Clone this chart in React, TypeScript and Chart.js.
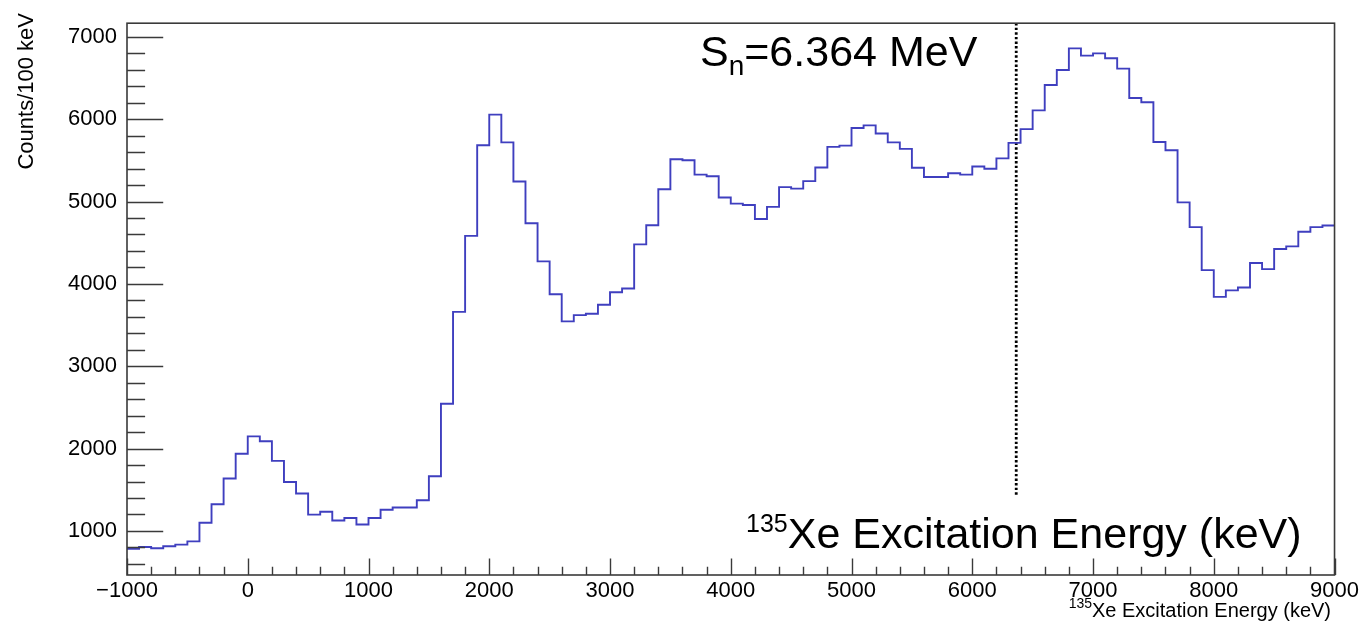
import React, { useEffect, useRef } from 'react';
import { Chart, registerables } from 'chart.js';

Chart.register(...registerables);

// Bin lower edges (keV), 100 keV bins
const binLow = [
  -1000, -900, -800, -700, -600, -500, -400, -300, -200, -100,
  0, 100, 200, 300, 400, 500, 600, 700, 800, 900,
  1000, 1100, 1200, 1300, 1400, 1500, 1600, 1700, 1800, 1900,
  2000, 2100, 2200, 2300, 2400, 2500, 2600, 2700, 2800, 2900,
  3000, 3100, 3200, 3300, 3400, 3500, 3600, 3700, 3800, 3900,
  4000, 4100, 4200, 4300, 4400, 4500, 4600, 4700, 4800, 4900,
  5000, 5100, 5200, 5300, 5400, 5500, 5600, 5700, 5800, 5900,
  6000, 6100, 6200, 6300, 6400, 6500, 6600, 6700, 6800, 6900,
  7000, 7100, 7200, 7300, 7400, 7500, 7600, 7700, 7800, 7900,
  8000, 8100, 8200, 8300, 8400, 8500, 8600, 8700, 8800, 8900,
];
const lastEdge = 9000;

// Counts per 100 keV bin
const counts = [
  783, 805, 790, 814, 834, 873, 1099, 1325, 1637, 1938,
  2148, 2089, 1851, 1594, 1455, 1198, 1234, 1127, 1158, 1079,
  1158, 1257, 1285, 1285, 1372, 1665, 2544, 3660, 4583, 5683,
  6056, 5719, 5244, 4737, 4274, 3874, 3545, 3621, 3637, 3747,
  3898, 3945, 4480, 4713, 5149, 5513, 5501, 5327, 5307, 5050,
  4975, 4958, 4789, 4935, 5175, 5157, 5248, 5414, 5664, 5679,
  5893, 5925, 5826, 5719, 5640, 5410, 5299, 5299, 5343, 5327,
  5426, 5398, 5525, 5713, 5880, 6107, 6416, 6598, 6860, 6772,
  6800, 6741, 6614, 6258, 6206, 5723, 5624, 4990, 4690, 4167,
  3842, 3922, 3957, 4254, 4179, 4424, 4456, 4634, 4690, 4709,
];

const xTickValues = [-1000, 0, 1000, 2000, 3000, 4000, 5000, 6000, 7000, 8000, 9000];
const yTickValues = [1000, 2000, 3000, 4000, 5000, 6000, 7000];

const xMin = -1000;
const xMax = 9000;
const yMin = 465;
const yMax = 7166;

// Neutron separation energy marker
const snKeV = 6364;
const snLineBottom = 1440;

const yTitle = 'Counts/100 keV';
const xTitleSup = '135';
const xTitleMain = 'Xe Excitation Energy (keV)';
const snLabelS = 'S';
const snLabelSub = 'n';
const snLabelRest = '=6.364 MeV';
const bigLabelSup = '135';
const bigLabelMain = 'Xe Excitation Energy (keV)';

const FONT = '"Liberation Sans", Arial, Helvetica, sans-serif';
const FRAME_COLOR = '#3a3a3a';
const HIST_COLOR = '#3f3fbf';

const rootStylePlugin = {
  id: 'rootStyle',
  beforeDraw(chart: any) {
    const { ctx, width, height } = chart;
    ctx.save();
    ctx.fillStyle = '#ffffff';
    ctx.fillRect(0, 0, width, height);
    ctx.restore();
  },
  afterDraw(chart: any) {
    const { ctx, chartArea } = chart;
    const xs = chart.scales.x;
    const ys = chart.scales.y;
    const { left, right, top, bottom } = chartArea;
    ctx.save();
    // frame
    ctx.strokeStyle = FRAME_COLOR;
    ctx.lineWidth = 1.6;
    ctx.strokeRect(left, top, right - left, bottom - top);

    // y ticks (inward)
    const yMajorLen = 0.03 * (right - left);
    const yMinorLen = yMajorLen / 2;
    ctx.beginPath();
    for (let v = 600; v <= ys.max; v += 200) {
      const py = Math.round(ys.getPixelForValue(v)) + 0.5;
      const len = v % 1000 === 0 ? yMajorLen : yMinorLen;
      ctx.moveTo(left, py);
      ctx.lineTo(left + len, py);
    }
    // x ticks (inward)
    const xMajorLen = 0.03 * (bottom - top);
    const xMinorLen = xMajorLen / 2;
    for (let v = xs.min; v <= xs.max; v += 200) {
      const px = Math.round(xs.getPixelForValue(v)) + 0.5;
      const len = v % 1000 === 0 ? xMajorLen : xMinorLen;
      ctx.moveTo(px, bottom);
      ctx.lineTo(px, bottom - len);
    }
    ctx.lineWidth = 1.4;
    ctx.stroke();

    ctx.fillStyle = '#000000';
    ctx.textBaseline = 'alphabetic';

    // y title (rotated, aligned to top)
    ctx.save();
    ctx.translate(33, 13);
    ctx.rotate(-Math.PI / 2);
    ctx.font = `22px ${FONT}`;
    ctx.textAlign = 'right';
    ctx.fillText(yTitle, 0, 0);
    ctx.restore();

    // x title (right aligned, with superscript)
    ctx.textAlign = 'left';
    ctx.font = `20px ${FONT}`;
    const wMain = ctx.measureText(xTitleMain).width;
    ctx.font = `14px ${FONT}`;
    const wSup = ctx.measureText(xTitleSup).width;
    const xEnd = 1331;
    const xStart = xEnd - wMain - wSup;
    ctx.fillText(xTitleSup, xStart, 608);
    ctx.font = `20px ${FONT}`;
    ctx.fillText(xTitleMain, xStart + wSup, 617);

    // S_n annotation
    let cx = 700;
    ctx.font = `43px ${FONT}`;
    ctx.fillText(snLabelS, cx, 66);
    cx += ctx.measureText(snLabelS).width;
    ctx.font = `28px ${FONT}`;
    ctx.fillText(snLabelSub, cx, 75);
    cx += ctx.measureText(snLabelSub).width;
    ctx.font = `43px ${FONT}`;
    ctx.fillText(snLabelRest, cx, 66);

    // big nucleus label
    cx = 746;
    ctx.font = `25px ${FONT}`;
    ctx.fillText(bigLabelSup, cx, 532);
    cx += ctx.measureText(bigLabelSup).width;
    ctx.font = `43px ${FONT}`;
    ctx.fillText(bigLabelMain, cx, 548);

    ctx.restore();
  },
};

export default function App() {
  const canvasRef = useRef<HTMLCanvasElement | null>(null);

  useEffect(() => {
    const canvas = canvasRef.current;
    if (!canvas) return;

    const histPoints = binLow.map((x, i) => ({ x, y: counts[i] }));
    histPoints.push({ x: lastEdge, y: counts[counts.length - 1] });

    const chart = new Chart(canvas, {
      type: 'line',
      data: {
        datasets: [
          {
            label: 'hist',
            data: histPoints,
            stepped: 'before',
            borderColor: HIST_COLOR,
            borderWidth: 1.9,
            pointRadius: 0,
            fill: false,
            tension: 0,
          },
          {
            label: 'Sn',
            data: [
              { x: snKeV, y: snLineBottom },
              { x: snKeV, y: yMax },
            ],
            borderColor: '#000000',
            borderWidth: 2.8,
            borderDash: [2.4, 2.2],
            pointRadius: 0,
            fill: false,
          },
        ],
      },
      options: {
        animation: false,
        responsive: false,
        maintainAspectRatio: false,
        devicePixelRatio: 1,
        layout: { padding: { left: 0, top: 11, right: 26, bottom: 0 } },
        plugins: {
          legend: { display: false },
          tooltip: { enabled: false },
        },
        scales: {
          x: {
            type: 'linear',
            min: xMin,
            max: xMax,
            afterBuildTicks: (s: any) => {
              s.ticks = xTickValues.map((v) => ({ value: v }));
            },
            ticks: {
              autoSkip: false,
              maxRotation: 0,
              minRotation: 0,
              padding: 3,
              color: '#000000',
              font: { family: FONT, size: 22 },
              callback: (v: any) => (Number(v) < 0 ? '\u2212' + Math.abs(Number(v)) : String(v)),
            },
            grid: { display: false, drawTicks: false },
            border: { display: false },
            afterFit: (s: any) => {
              s.height = 48;
            },
          },
          y: {
            type: 'linear',
            min: yMin,
            max: yMax,
            afterBuildTicks: (s: any) => {
              s.ticks = yTickValues.map((v) => ({ value: v }));
            },
            ticks: {
              padding: 10,
              color: '#000000',
              font: { family: FONT, size: 22 },
              callback: (v: any) => String(v),
            },
            grid: { display: false, drawTicks: false },
            border: { display: false },
            afterFit: (s: any) => {
              s.width = 127;
            },
          },
        },
      },
      plugins: [rootStylePlugin],
    });

    return () => {
      chart.destroy();
    };
  }, []);

  return (
    <div style={{ position: 'fixed', left: 0, top: 0, width: 1362, height: 623, background: '#ffffff' }}>
      <canvas ref={canvasRef} width={1362} height={623} style={{ display: 'block', width: 1362, height: 623 }} />
    </div>
  );
}
